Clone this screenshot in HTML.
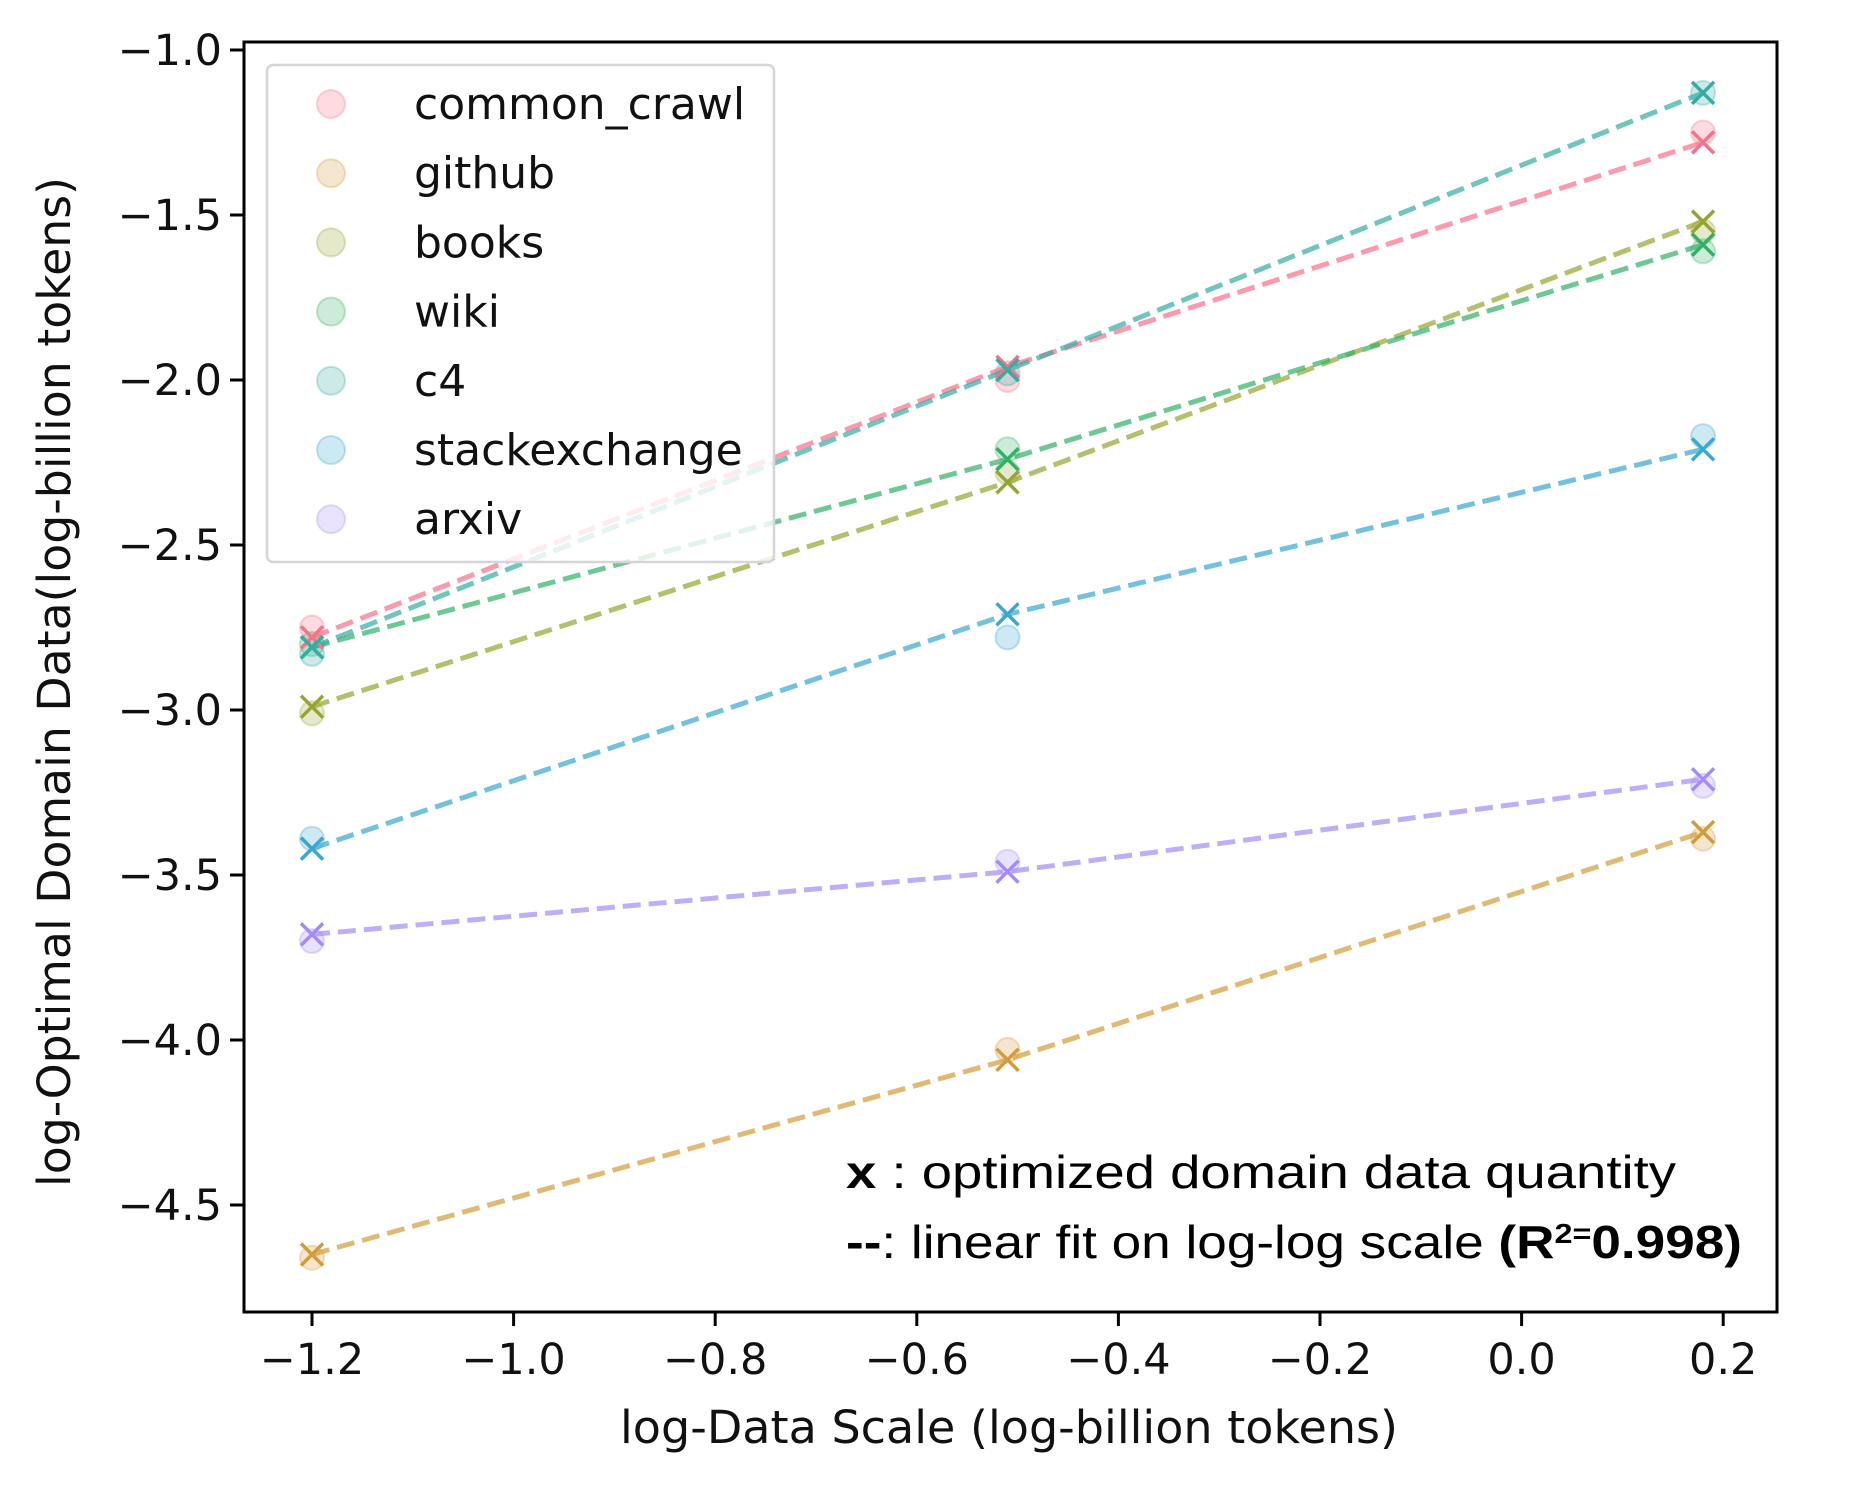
<!DOCTYPE html>
<html><head><meta charset="utf-8"><style>
html,body{margin:0;padding:0;background:#fff;}
svg{display:block;}
text{font-family:"DejaVu Sans","Liberation Sans",sans-serif;fill:#111;}
</style></head><body>
<svg id="chart" width="1865" height="1485" viewBox="0 0 1865 1485" xmlns="http://www.w3.org/2000/svg">
<g id="plot"></g>
</svg>
<script>
const categories = ["common_crawl","github","books","wiki","c4","stackexchange","arxiv"];
const colors = ["#f77189","#d39c3b","#97a431","#32b166","#36ada4","#39a7d0","#a48cf4"];
const xValues = [-1.2, -0.51, 0.18];
const crossCommon = [-2.78,-1.96,-1.28];
const crossGithub = [-4.65,-4.06,-3.37];
const crossBooks = [-2.99,-2.31,-1.52];
const crossWiki = [-2.81,-2.24,-1.59];
const crossC4 = [-2.81,-1.97,-1.13];
const crossStack = [-3.42,-2.71,-2.21];
const crossArxiv = [-3.68,-3.49,-3.21];
const circCommon = [-2.75,-2.0,-1.25];
const circGithub = [-4.66,-4.03,-3.39];
const circBooks = [-3.01,-2.28,-1.55];
const circWiki = [-2.80,-2.21,-1.61];
const circC4 = [-2.83,-1.98,-1.13];
const circStack = [-3.39,-2.78,-2.17];
const circArxiv = [-3.70,-3.46,-3.23];
const xTicks = [-1.2,-1.0,-0.8,-0.6,-0.4,-0.2,0.0,0.2];
const xTickLabels = ["\u22121.2","\u22121.0","\u22120.8","\u22120.6","\u22120.4","\u22120.2","0.0","0.2"];
const yTicks = [-1.0,-1.5,-2.0,-2.5,-3.0,-3.5,-4.0,-4.5];
const yTickLabels = ["\u22121.0","\u22121.5","\u22122.0","\u22122.5","\u22123.0","\u22123.5","\u22124.0","\u22124.5"];

const crosses=[crossCommon,crossGithub,crossBooks,crossWiki,crossC4,crossStack,crossArxiv];
const circles=[circCommon,circGithub,circBooks,circWiki,circC4,circStack,circArxiv];
const L=244,R=1777,T=42,B=1312;
function xs(v){return 312+(v+1.2)*1008;}
function ys(v){return 50+(-1-v)*330;}
const NS="http://www.w3.org/2000/svg";
const g=document.getElementById('plot');
function mk(tag,attrs,parent){const e=document.createElementNS(NS,tag);for(const k in attrs)e.setAttribute(k,attrs[k]);(parent||g).appendChild(e);return e;}

circles.forEach((arr,i)=>{arr.forEach((v,j)=>{
 const c=mk('circle',{cx:xs(xValues[j]),cy:ys(v),r:12,fill:colors[i],'fill-opacity':0.25,stroke:colors[i],'stroke-opacity':0.3,'stroke-width':2});
 
 
});});
crosses.forEach((arr,i)=>{
 const p=mk('polyline',{points:arr.map((v,j)=>xs(xValues[j])+','+ys(v)).join(' '),fill:'none',stroke:colors[i],'stroke-opacity':0.7,'stroke-width':5,'stroke-dasharray':'18,8'});
 
 
});
crosses.forEach((arr,i)=>{arr.forEach((v,j)=>{
 const x=xs(xValues[j]),y=ys(v),s=11;
 const p=mk('path',{d:`M${x-s},${y-s}L${x+s},${y+s}M${x-s},${y+s}L${x+s},${y-s}`,stroke:colors[i],'stroke-width':3.5,fill:'none'});
 
 
});});
const fr=mk('rect',{x:L,y:T,width:R-L,height:B-T,fill:'none',stroke:'#000','stroke-width':3});


xTicks.forEach((v,i)=>{
 const x=xs(v);
 mk('line',{x1:x,y1:B,x2:x,y2:B+14,stroke:'#000','stroke-width':3});
 const t=mk('text',{x:x,y:B+62,'font-size':43,'text-anchor':'middle'});t.textContent=xTickLabels[i];
 
 
});
yTicks.forEach((v,i)=>{
 const y=ys(v);
 mk('line',{x1:L,y1:y,x2:L-14,y2:y,stroke:'#000','stroke-width':3});
 const t=mk('text',{x:L-22,y:y+15,'font-size':43,'text-anchor':'end'});t.textContent=yTickLabels[i];
 
 
});
const lg=mk('g',{});


mk('rect',{x:267,y:65,width:507,height:497,rx:6,fill:'#fff','fill-opacity':0.8,stroke:'#d6d6d6','stroke-width':2.5},lg);
categories.forEach((c,i)=>{
 const y=104+i*69.2;
 const cc=mk('circle',{cx:331,cy:y,r:14,fill:colors[i],'fill-opacity':0.25,stroke:colors[i],'stroke-opacity':0.3,'stroke-width':2},lg);
 
 
 const t=mk('text',{x:414,y:y+15,'font-size':44},lg);t.textContent=c;
 
 
});
const xt=mk('text',{x:1009,y:1443,'font-size':45,'text-anchor':'middle',textLength:778,lengthAdjust:'spacingAndGlyphs'});xt.textContent='log-Data Scale (log-billion tokens)';


const yt=mk('text',{x:0,y:0,'font-size':45,'text-anchor':'middle',textLength:1010,lengthAdjust:'spacingAndGlyphs',transform:'translate(70,682) rotate(-90)'});yt.textContent='log-Optimal Domain Data(log-billion tokens)';


const a1=mk('text',{x:846,y:1188,'font-size':46,textLength:830,lengthAdjust:'spacingAndGlyphs',style:'font-family:"Liberation Sans Narrow","Liberation Sans",sans-serif;fill:#000'});
a1.innerHTML='<tspan font-weight="bold">x</tspan> : optimized domain data quantity';


const a2=mk('text',{x:846,y:1258,'font-size':46,textLength:896,lengthAdjust:'spacingAndGlyphs',style:'font-family:"Liberation Sans Narrow","Liberation Sans",sans-serif;fill:#000'});
a2.innerHTML='<tspan font-weight="bold">--</tspan>: linear fit on log-log scale <tspan font-weight="bold">(R<tspan baseline-shift="super" font-size="28">2=</tspan>0.998)</tspan>';


</script>
</body></html>
